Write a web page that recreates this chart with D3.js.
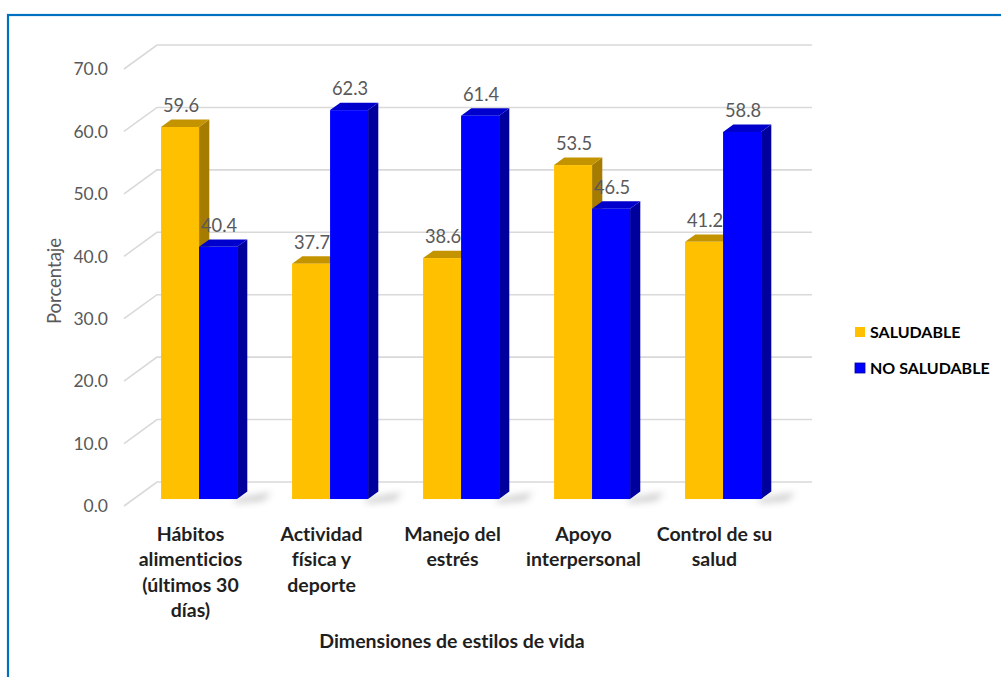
<!DOCTYPE html>
<html>
<head>
<meta charset="utf-8">
<script src="https://cdn.jsdelivr.net/npm/d3@7/dist/d3.min.js"></script>
<style>
  html, body { margin: 0; padding: 0; background: #fff; }
  svg { display: block; }
  text { font-variant-ligatures: none; font-feature-settings: "liga" 0; }
</style>
</head>
<body>
<svg id="chart" width="1001" height="677"></svg>
<script>
// Lifestyle dimensions, percentage per group
const categories = [
  ["Hábitos", "alimenticios", "(últimos 30", "días)"],
  ["Actividad", "física y", "deporte"],
  ["Manejo del", "estrés"],
  ["Apoyo", "interpersonal"],
  ["Control de su", "salud"]
];
const seriesNames = ["SALUDABLE", "NO SALUDABLE"];
const saludable = [59.6, 37.7, 38.6, 53.5, 41.2];
const noSaludable = [40.4, 62.3, 61.4, 46.5, 58.8];
const yTicks = [0, 10, 20, 30, 40, 50, 60, 70];

const svg = d3.select("#chart");
const FONT = "Lato, 'Open Sans', sans-serif";

// Palette: front face, top face, side face per series
const faces = [
  { front: "#FFC000", top: "#C49300", side: "#A67C00" },
  { front: "#0000FF", top: "#0000CC", side: "#00009C" }
];

// 3D frame: the front plane plus an oblique offset for depth
const depthDX = 33, depthDY = -24;
const shift = t => [depthDX * t, depthDY * t];

const y = d3.scaleLinear().domain([0, 70]).range([506, 69]);
const x = d3.scaleBand().domain(d3.range(categories.length)).range([124, 779]).padding(0);
const xs = d3.scaleBand().domain([0, 1]).range([0, x.bandwidth()]).paddingInner(0).paddingOuter(0.724);

// Outer frame
svg.append("rect")
  .attr("x", 8).attr("y", 15).attr("width", 1010).attr("height", 700)
  .attr("fill", "none").attr("stroke", "#0070C0").attr("stroke-width", 2.2);

// Back wall gridlines and left wall diagonals
const [bx, by] = shift(1);
const grid = svg.append("g").attr("stroke", "#D9D9D9").attr("stroke-width", 1.6).attr("fill", "none");
yTicks.forEach(v => {
  const fy = y(v);
  grid.append("path")
    .attr("d", `M${x.range()[0]},${fy} L${x.range()[0] + bx},${fy + by} L${x.range()[1] + bx},${fy + by}`);
});

// Y-axis tick labels on the front plane
svg.append("g").selectAll("text").data(yTicks).join("text")
  .attr("x", 108).attr("y", d => y(d)).attr("dy", "0.36em")
  .attr("text-anchor", "end")
  .attr("font-family", FONT)
  .attr("font-size", 17.5).attr("fill", "#595959")
  .text(d => d3.format(".1f")(d));

// Soft shadow under the bars
const defs = svg.append("defs");
defs.append("filter").attr("id", "soft").attr("x", "-50%").attr("y", "-50%").attr("width", "200%").attr("height", "200%")
  .append("feGaussianBlur").attr("stdDeviation", 3.5);

// Bars: front face sits slightly behind the front plane
const barT0 = 0.29, barDepth = 0.31;
const [f0x, f0y] = shift(barT0);
const [dx, dy] = shift(barDepth);
const bars = svg.append("g");
const series = [saludable, noSaludable];

categories.forEach((c, i) => {
  // shadow cast on the floor to the right of the second bar
  const rx = x(i) + xs(1) + xs.bandwidth() + f0x;
  const base = y(0) + f0y;
  bars.append("path")
    .attr("d", `M${rx - 4},${base} L${rx + dx + 24},${base + dy + 1} L${rx + dx + 16},${base + dy + 9} L${rx},${base + 4} Z`)
    .attr("fill", "#8c8c8c").attr("opacity", 0.45).attr("filter", "url(#soft)");
});

categories.forEach((c, i) => {
  series.forEach((vals, s) => {
    const v = vals[i];
    const x0 = x(i) + xs(s) + f0x;
    const x1 = x0 + xs.bandwidth();
    const yt = y(v) + f0y;
    const yb = y(0) + f0y;
    const g = bars.append("g");
    // side face
    g.append("path")
      .attr("d", `M${x1},${yt} L${x1 + dx},${yt + dy} L${x1 + dx},${yb + dy} L${x1},${yb} Z`)
      .attr("fill", faces[s].side);
    // top face
    g.append("path")
      .attr("d", `M${x0},${yt} L${x0 + dx},${yt + dy} L${x1 + dx},${yt + dy} L${x1},${yt} Z`)
      .attr("fill", faces[s].top);
    // front face
    g.append("rect")
      .attr("x", x0).attr("y", yt).attr("width", xs.bandwidth()).attr("height", yb - yt)
      .attr("fill", faces[s].front);
    // value label
    svg.append("text")
      .attr("x", (x0 + x1) / 2 + 1).attr("y", yt - 15)
      .attr("text-anchor", "middle")
      .attr("font-family", FONT)
      .attr("font-size", 18.3).attr("fill", "#595959")
      .text(d3.format(".1f")(v));
  });
});

// Category labels
const catG = svg.append("g")
  .attr("font-family", FONT)
  .attr("font-size", 19.5).attr("font-weight", "bold").attr("fill", "#1f1f1f")
  .attr("text-anchor", "middle");
categories.forEach((lines, i) => {
  const cx = x(i) + x.bandwidth() / 2 + 1;
  const t = catG.append("text").attr("x", cx).attr("y", 541);
  lines.forEach((ln, k) => {
    t.append("tspan").attr("x", cx).attr("dy", k === 0 ? 0 : 25.3).text(ln);
  });
});

// Axis titles
svg.append("text")
  .attr("x", 452).attr("y", 648).attr("text-anchor", "middle")
  .attr("font-family", FONT)
  .attr("font-size", 19.5).attr("font-weight", "bold").attr("fill", "#1f1f1f")
  .text("Dimensiones de estilos de vida");

svg.append("text")
  .attr("transform", "translate(61,281) rotate(-90)")
  .attr("text-anchor", "middle")
  .attr("font-family", FONT)
  .attr("font-size", 18.5).attr("fill", "#595959")
  .text("Porcentaje");

// Legend
const legend = svg.append("g");
seriesNames.forEach((name, s) => {
  const ly = 332 + s * 36;
  legend.append("rect").attr("x", 855).attr("y", ly - 5).attr("width", 10).attr("height", 10)
    .attr("fill", faces[s].front).attr("stroke", s === 1 ? "#00009C" : "none").attr("stroke-width", 0.8);
  legend.append("text").attr("x", 870).attr("y", ly).attr("dy", "0.36em")
    .attr("font-family", FONT)
    .attr("font-size", 16).attr("font-weight", "bold").attr("fill", "#000")
    .text(name);
});
</script>
</body>
</html>
